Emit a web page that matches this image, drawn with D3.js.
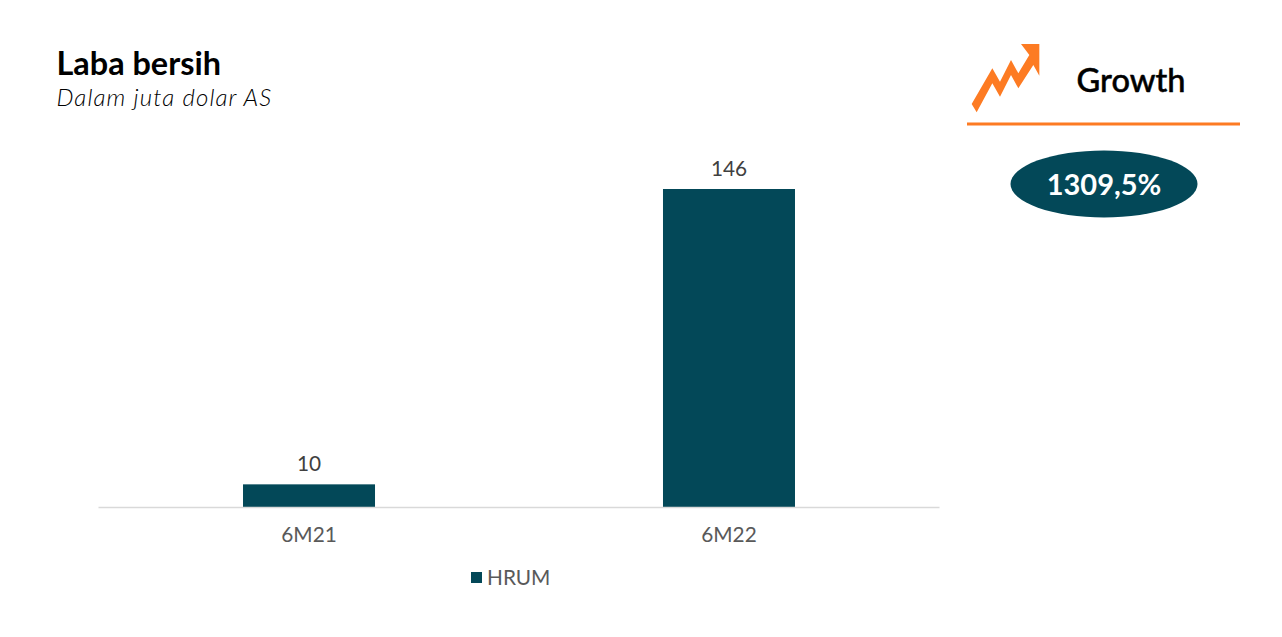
<!DOCTYPE html>
<html>
<head>
<meta charset="utf-8">
<script src="https://cdn.jsdelivr.net/npm/d3@7/dist/d3.min.js"></script>
<style>
html,body{margin:0;padding:0;background:#fff;overflow:hidden}
svg{display:block}
text{font-family:Lato,sans-serif}
</style>
</head>
<body>
<svg id="c" width="1282" height="637"></svg>
<script>
const categories = ["6M21", "6M22"];
const seriesName = "HRUM";
const values = [10.4, 146];
const chartTitle = "Laba bersih";
const chartSubtitle = "Dalam juta dolar AS";
const growthLabel = "Growth";
const growthValue = "1309,5%";

const teal = "#034858", orange = "#FD7B23";
const svg = d3.select("#c");

const x = d3.scaleBand().domain(categories).range([99, 939]).paddingInner(0.6857).paddingOuter(0.3429);
const y = d3.scaleLinear().domain([0, 146]).range([507, 189]);

// bars
svg.append("g").selectAll("rect").data(values).join("rect")
  .attr("x", (d, i) => x(categories[i]))
  .attr("y", d => y(d))
  .attr("width", x.bandwidth())
  .attr("height", d => y(0) - y(d))
  .attr("fill", teal);

// x axis
const axis = svg.append("g").attr("transform", "translate(0,507)").call(d3.axisBottom(x).tickSize(0).tickPadding(20));
axis.select(".domain").attr("d", "M98.5,0.5H939.5").attr("stroke", "#d9d9d9").attr("stroke-width", 1.3);
axis.selectAll("text").attr("font-size", 20.8).attr("fill", "#595959").style("font-family", "Lato,sans-serif");

// data labels
svg.append("g").selectAll("text").data(values).join("text")
  .attr("x", (d, i) => x(categories[i]) + x.bandwidth() / 2)
  .attr("y", d => y(d) - 13.5)
  .attr("text-anchor", "middle")
  .attr("font-size", 20.8)
  .attr("fill", "#404040")
  .text(d => d3.format(".0f")(d));

// legend
svg.append("rect").attr("x", 471).attr("y", 572).attr("width", 11).attr("height", 11).attr("fill", teal);
svg.append("text").attr("x", 487).attr("y", 585).attr("font-size", 20.8).attr("fill", "#595959").text(seriesName);

// titles
svg.append("text").attr("x", 56.5).attr("y", 75).attr("font-size", 32.4).attr("font-weight", 700).attr("fill", "#000").text(chartTitle);
svg.append("text").attr("x", 56.5).attr("y", 106).attr("font-size", 24).attr("font-style", "italic").attr("font-weight", 300).attr("letter-spacing", 1.1).attr("fill", "#000").text(chartSubtitle);

// growth panel
const arrow = [[65,222],[127,115],[150,155],[183,90],[205,130],[238,75],[213,42],[268,42],[268,137],[250,105],[205,175],[183,135],[150,200],[127,160],[80,247]]
  .map(p => [950 + p[0] / 3, 30 + p[1] / 3]);
svg.append("path").attr("d", d3.line()(arrow) + "Z").attr("fill", orange);
svg.append("text").attr("x", 1131).attr("y", 92).attr("text-anchor", "middle").attr("font-size", 32.6).attr("font-weight", 500).attr("fill", "#000").attr("stroke", "#000").attr("stroke-width", 0.5).text(growthLabel);
svg.append("line").attr("x1", 967).attr("x2", 1240).attr("y1", 124).attr("y2", 124).attr("stroke", orange).attr("stroke-width", 3);
svg.append("ellipse").attr("cx", 1104).attr("cy", 184).attr("rx", 93.5).attr("ry", 33.5).attr("fill", teal);
svg.append("text").attr("x", 1104).attr("y", 195).attr("text-anchor", "middle").attr("font-size", 29).attr("font-weight", 700).attr("fill", "#fff").text(growthValue);
</script>
</body>
</html>
